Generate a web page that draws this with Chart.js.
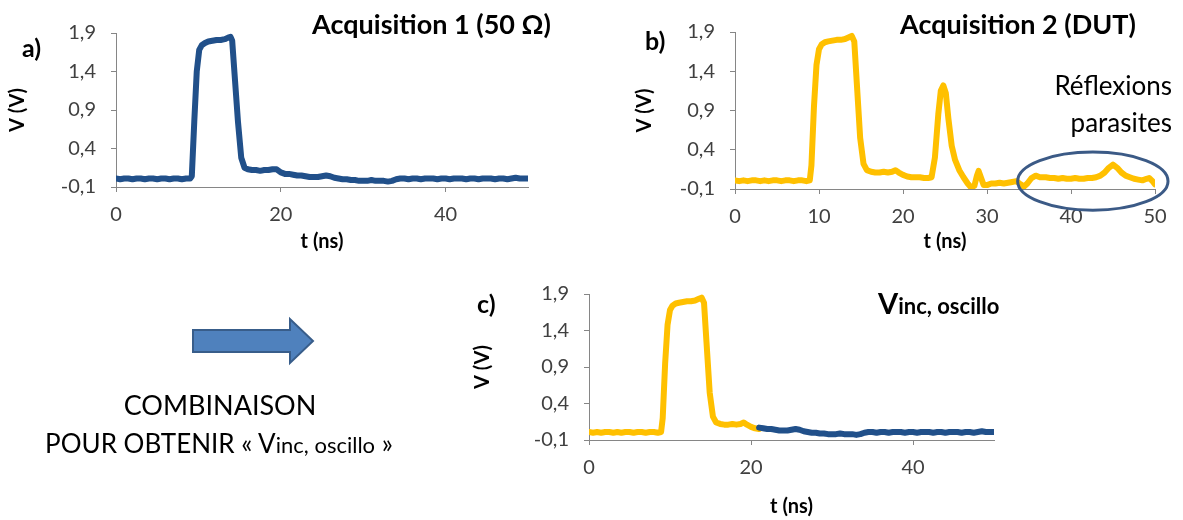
<!DOCTYPE html>
<html>
<head>
<meta charset="utf-8">
<script src="https://cdn.jsdelivr.net/npm/chart.js@4/dist/chart.umd.min.js"></script>
<style>
  body { margin: 0; background: #fff; font-family: Lato, "Open Sans", sans-serif; color: #000; }
  #page { position: relative; width: 1183px; height: 520px; overflow: hidden; }
  canvas { position: absolute; }
  .lbl { position: absolute; line-height: 1; white-space: nowrap; transform: translateY(-50%); }
  .b { font-weight: 700; }
</style>
</head>
<body>
<div id="page">
  <canvas id="ca" width="560" height="260" style="left:0;top:0"></canvas>
  <canvas id="cb" width="583" height="260" style="left:600px;top:0"></canvas>
  <canvas id="cc" width="560" height="255" style="left:460px;top:265px"></canvas>

  <div class="lbl b" style="left:22px;top:47px;font-size:25px">a)</div>
  <div class="lbl b" style="left:645px;top:40px;font-size:25px">b)</div>
  <div class="lbl b" style="left:477px;top:303px;font-size:25px">c)</div>

  <div class="lbl b" style="left:312px;top:23px;font-size:27px">Acquisition 1 (50 Ω)</div>
  <div class="lbl b" style="left:900px;top:23px;font-size:27px">Acquisition 2 (DUT)</div>
  <div class="lbl b" style="left:878px;top:302px;font-size:29px">V<span style="font-size:22px">inc, oscillo</span></div>

  <div class="lbl" style="right:11px;top:85px;font-size:26px">Réflexions</div>
  <div class="lbl" style="right:11px;top:122px;font-size:26px">parasites</div>

  <svg style="position:absolute;left:0;top:0" width="400" height="400">
    <polygon points="193,330 290,330 290,319 313,341 290,363 290,352 193,352"
             fill="#4f81bd" stroke="#385d8a" stroke-width="2"/>
  </svg>
  <div class="lbl" style="left:0;width:440px;text-align:center;top:404px;font-size:27px">COMBINAISON</div>
  <div class="lbl" style="left:0;width:438px;text-align:center;top:443px;font-size:26px">POUR OBTENIR « V<span style="font-size:22px">inc, oscillo</span> »</div>
</div>

<script>
/* ---- données ---- */
// Acquisition 1 (charge 50 ohms)
const tA = [0,0.5,1,1.5,2,2.5,3,3.5,4,4.5,5,5.5,6,6.5,7,7.5,8,8.5,9,9.2,
  9.5,9.8,10.1,10.4,10.8,11.2,11.7,12.2,12.7,13.2,13.6,13.9,14.1,14.4,14.8,15.2,15.6,
  16,16.5,17,17.5,18,18.5,19,19.5,20,20.5,21,21.5,22,22.5,23,23.5,24,24.5,25,25.5,
  26,26.5,27,27.5,28,28.5,29,29.5,30,30.5,31,31.5,32,32.5,33,33.5,34,34.5,35,35.5,
  36,36.5,37,37.5,38,38.5,39,39.5,40,40.5,41,41.5,42,42.5,43,43.5,44,44.5,45,45.5,
  46,46.5,47,47.5,48,48.5,49,49.5,50];
const vA = [0.01,0.00,0.01,0.01,0.00,0.01,0.01,0.00,0.01,0.01,0.00,0.01,0.01,0.00,0.01,0.01,0.00,0.01,0.01,0.04,
  0.75,1.40,1.68,1.74,1.77,1.79,1.80,1.81,1.81,1.82,1.84,1.85,1.80,1.35,0.75,0.28,0.15,
  0.13,0.12,0.12,0.11,0.12,0.12,0.13,0.13,0.09,0.07,0.07,0.06,0.05,0.05,0.04,0.03,0.03,0.03,0.04,0.05,
  0.04,0.02,0.01,0.00,0.00,-0.01,-0.01,-0.02,-0.02,-0.02,-0.01,-0.02,-0.02,-0.02,-0.03,-0.02,0.00,0.01,0.01,0.00,
  0.01,0.01,0.00,0.01,0.01,0.01,0.00,0.01,0.01,0.00,0.01,0.01,0.01,0.00,0.01,0.01,0.00,0.01,0.01,0.01,
  0.00,0.01,0.01,0.00,0.01,0.02,0.01,0.01,0.01];

// Acquisition 2 (DUT)
const tB = [0,0.5,1,1.5,2,2.5,3,3.5,4,4.5,5,5.5,6,6.5,7,7.5,8,8.5,8.9,9.1,
  9.4,9.7,10,10.3,10.7,11.1,11.6,12.1,12.6,13.1,13.5,13.9,14.2,14.5,14.9,15.3,15.7,
  16.2,16.7,17.2,17.7,18.2,18.7,19.1,19.5,20,20.5,21,21.5,22,22.5,23,23.4,23.8,24.2,
  24.5,24.8,25.1,25.4,25.8,26.2,26.7,27.2,27.7,28.1,28.5,28.8,29,29.3,29.6,30,30.5,
  31,31.5,32,32.5,33,33.5,34,34.4,34.8,35.3,35.8,36.3,37,37.5,38,38.5,39,39.5,40,
  40.5,41,41.5,42,42.5,43,43.5,44,44.5,45,45.5,46,46.5,47,47.5,48,48.5,49,49.3,49.7,50];
const vB = [0.01,0.00,0.01,0.00,0.01,0.01,0.00,0.01,0.00,0.01,0.01,0.00,0.01,0.01,0.00,0.01,0.01,0.00,0.01,0.20,
  0.95,1.48,1.68,1.74,1.77,1.78,1.79,1.80,1.80,1.81,1.83,1.85,1.78,1.25,0.55,0.22,0.14,
  0.12,0.11,0.11,0.12,0.11,0.12,0.14,0.11,0.08,0.06,0.05,0.05,0.05,0.04,0.04,0.05,0.30,0.85,
  1.15,1.22,1.12,0.80,0.45,0.27,0.14,0.05,-0.03,-0.08,-0.06,0.07,0.13,0.04,-0.05,-0.05,-0.03,
  -0.03,-0.02,-0.03,-0.02,-0.01,0.00,-0.04,-0.07,-0.03,0.04,0.07,0.05,0.05,0.04,0.04,0.03,0.04,0.03,0.03,
  0.04,0.03,0.03,0.04,0.04,0.05,0.07,0.11,0.17,0.21,0.17,0.11,0.07,0.05,0.03,0.02,0.01,0.03,0.04,0.00,-0.04];

// combinaison : DUT jusqu'à 21 ns, puis 50 ohms
const tCut = 21;

const yTicks  = [-0.1, 0.4, 0.9, 1.4, 1.9];
const xTicksA = [0, 20, 40];
const xTicksB = [0, 10, 20, 30, 40, 50];
const xTicksC = [0, 20, 40];

// ellipse "Réflexions parasites" (centre et demi-axes, en unités du graphe)
const zone = { t: 42.6, v: 0.0, dt: 8.95, dv: 0.37 };

/* ---- style ---- */
const navy = '#21508a', gold = '#ffc000', axisCol = '#868686', tickCol = '#404040';
const FONT = 'Lato, "Open Sans", sans-serif';
const pts = (t, v) => t.map((x, i) => ({ x, y: v[i] }));
const line = (data, col) => ({ data, borderColor: col, borderWidth: 6, pointRadius: 0,
  tension: 0, borderJoinStyle: 'round', borderCapStyle: 'round', fill: false });

const ellipse = {
  id: 'ellipse',
  afterDatasetsDraw(ch) {
    const { x, y } = ch.scales, c = ch.ctx;
    const cx = x.getPixelForValue(zone.t), cy = y.getPixelForValue(zone.v);
    const rx = x.getPixelForValue(zone.t + zone.dt) - cx;
    const ry = cy - y.getPixelForValue(zone.v + zone.dv);
    c.save();
    c.beginPath();
    c.ellipse(cx, cy, rx, ry, 0, 0, 2 * Math.PI);
    c.strokeStyle = '#3b5a86'; c.lineWidth = 3;
    c.stroke();
    c.restore();
  }
};

function makeChart(id, datasets, o) {
  return new Chart(document.getElementById(id), {
    type: 'line',
    data: { datasets },
    options: {
      responsive: false, animation: false, events: [],
      layout: { padding: { left: 0, top: o.top, right: o.right, bottom: 0 } },
      plugins: { legend: { display: false }, tooltip: { enabled: false } },
      scales: {
        x: {
          type: 'linear', min: 0, max: 50,
          afterBuildTicks: s => { s.ticks = o.xTicks.map(v => ({ value: v })); },
          afterFit: s => { s.height = o.xH; },
          grid: { drawOnChartArea: false, tickLength: 5, color: axisCol },
          border: { color: axisCol },
          ticks: { padding: 11, color: tickCol, maxRotation: 0, font: { family: FONT, size: 20 } },
          title: { display: true, text: 't (ns)', color: '#000', padding: { top: 0, bottom: o.xtp },
                   font: { family: FONT, size: 20, weight: 'bold' } }
        },
        y: {
          min: -0.1, max: 1.9,
          afterBuildTicks: s => { s.ticks = yTicks.map(v => ({ value: v })); },
          afterFit: s => { s.width = o.yW; },
          grid: { drawOnChartArea: false, tickLength: 5, color: axisCol },
          border: { color: axisCol },
          ticks: { padding: 15, color: tickCol, font: { family: FONT, size: 20 },
                   callback: v => v.toFixed(1).replace('.', ',') },
          title: { display: true, text: 'V (V)', color: '#000', padding: { top: o.ytp, bottom: 0 },
                   font: { family: FONT, size: 20, weight: 'bold' } }
        }
      }
    },
    plugins: o.plugins || []
  });
}

const dataA = pts(tA, vA), dataB = pts(tB, vB);

makeChart('ca', [line(dataA, navy)],
  { top: 33, right: 32, yW: 116, xH: 73, ytp: 6, xtp: 6, xTicks: xTicksA });

makeChart('cb', [line(dataB, gold)],
  { top: 32, right: 28, yW: 135, xH: 71, ytp: 33, xtp: 6, xTicks: xTicksB, plugins: [ellipse] });

makeChart('cc', [line(dataA.filter(p => p.x >= tCut), navy), line(dataB.filter(p => p.x <= tCut), gold)],
  { top: 29, right: 26, yW: 129, xH: 80, ytp: 11, xtp: 1, xTicks: xTicksC });
</script>
</body>
</html>
